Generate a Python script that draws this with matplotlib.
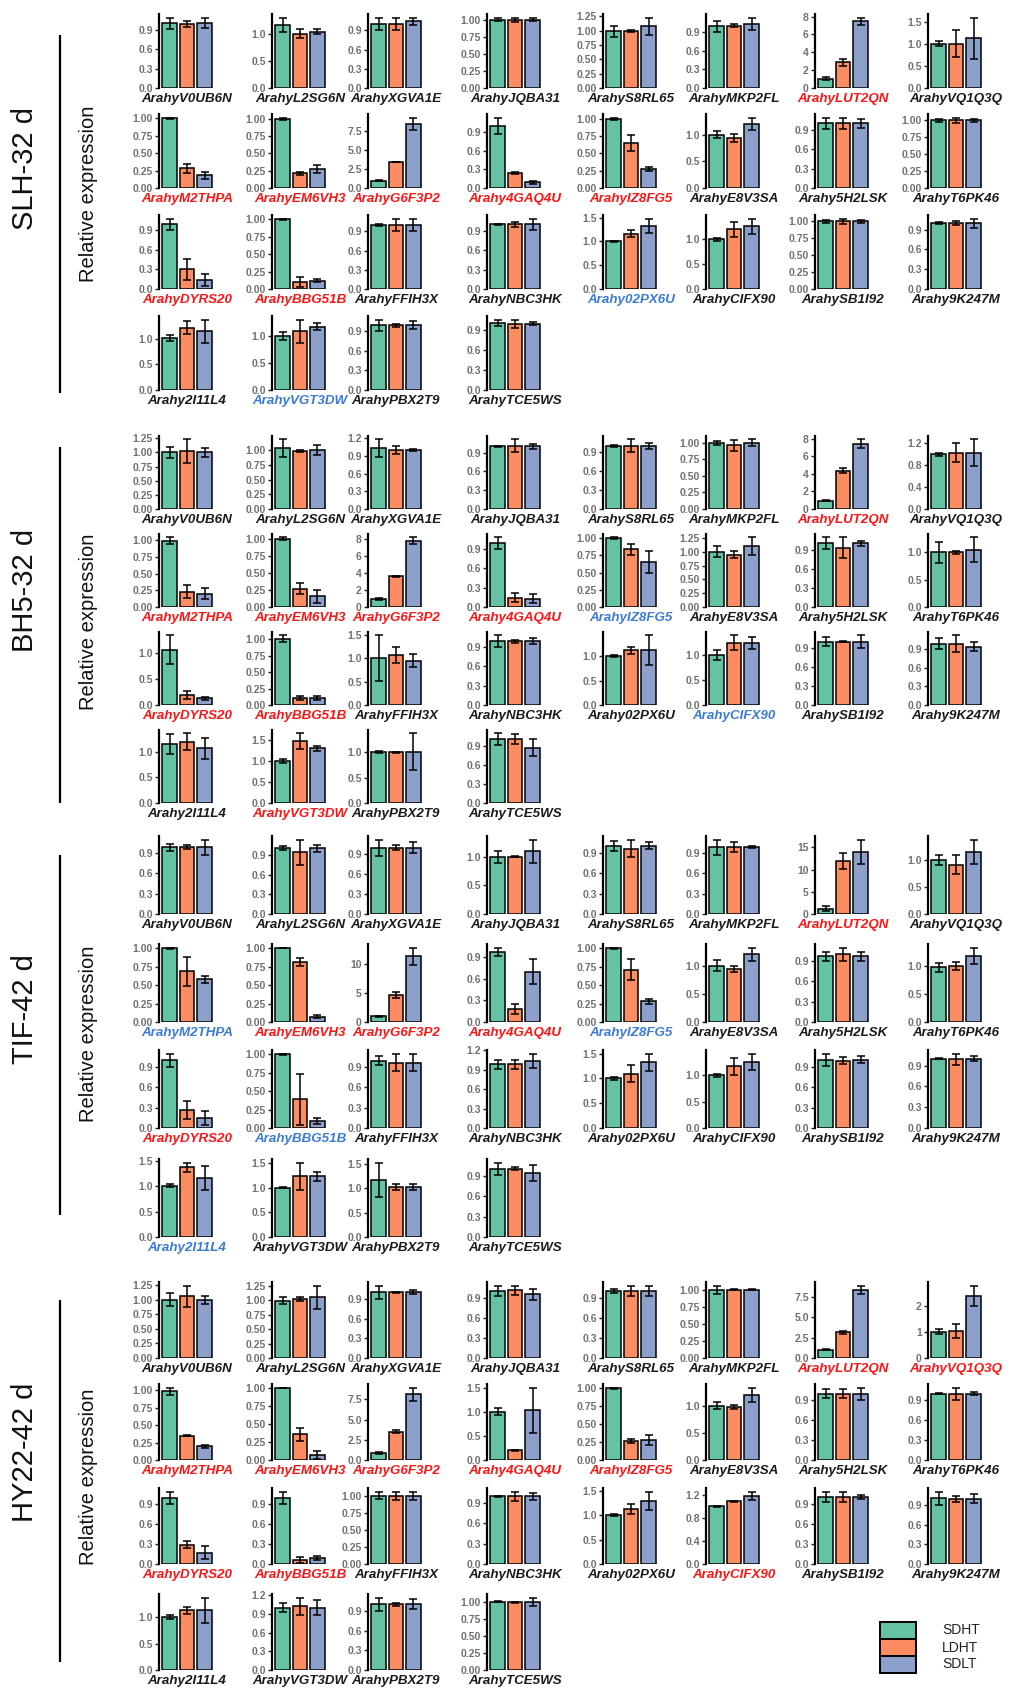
import numpy as np
import matplotlib
matplotlib.use("Agg")
import matplotlib.pyplot as plt
from matplotlib.patches import Rectangle

plt.rcParams['font.family'] = ['Liberation Sans', 'DejaVu Sans']

W, H = 1017, 1688

# ---------------- data ----------------
conditions = ['SDHT', 'LDHT', 'SDLT']
bar_colors = ['#66C2A5', '#FC8D62', '#8DA0CB']

genes = ['ArahyV0UB6N', 'ArahyL2SG6N', 'ArahyXGVA1E', 'ArahyJQBA31', 'ArahyS8RL65', 'ArahyMKP2FL', 'ArahyLUT2QN', 'ArahyVQ1Q3Q',
         'ArahyM2THPA', 'ArahyEM6VH3', 'ArahyG6F3P2', 'Arahy4GAQ4U', 'ArahyIZ8FG5', 'ArahyE8V3SA', 'Arahy5H2LSK', 'ArahyT6PK46',
         'ArahyDYRS20', 'ArahyBBG51B', 'ArahyFFIH3X', 'ArahyNBC3HK', 'Arahy02PX6U', 'ArahyCIFX90', 'ArahySB1I92', 'Arahy9K247M',
         'Arahy2I11L4', 'ArahyVGT3DW', 'ArahyPBX2T9', 'ArahyTCE5WS']

groups = ['SLH-32 d', 'BH5-32 d', 'TIF-42 d', 'HY22-42 d']

slh_mean = [[1.00, 0.99, 1.01], [1.17, 1.00, 1.04], [1.00, 1.00, 1.04], [1.00, 1.00, 1.00],
            [0.99, 0.99, 1.08], [0.99, 1.00, 1.03], [1.05, 2.88, 7.48], [1.01, 1.01, 1.13],
            [1.00, 0.28, 0.18], [1.00, 0.21, 0.28], [0.98, 3.45, 8.50], [1.00, 0.235, 0.09],
            [1.00, 0.65, 0.275], [1.00, 0.94, 1.20], [1.00, 1.00, 1.00], [1.00, 1.00, 1.00],
            [0.99, 0.30, 0.14], [1.00, 0.095, 0.12], [1.00, 1.00, 1.00], [1.00, 1.00, 1.00],
            [1.00, 1.16, 1.33], [1.00, 1.20, 1.26], [1.00, 1.00, 1.00], [1.00, 1.00, 1.00],
            [1.01, 1.21, 1.14], [1.00, 1.09, 1.18], [0.99, 0.99, 0.99], [1.01, 1.00, 1.00]]
slh_sd = [[0.09, 0.04, 0.08], [0.13, 0.08, 0.05], [0.09, 0.09, 0.06], [0.02, 0.03, 0.025],
          [0.10, 0.02, 0.15], [0.09, 0.02, 0.10], [0.20, 0.37, 0.42], [0.05, 0.30, 0.47],
          [0.01, 0.07, 0.05], [0.02, 0.02, 0.06], [0.05, 0.06, 0.85], [0.13, 0.015, 0.02],
          [0.02, 0.11, 0.03], [0.07, 0.07, 0.12], [0.09, 0.09, 0.07], [0.02, 0.04, 0.02],
          [0.09, 0.16, 0.09], [0.01, 0.07, 0.02], [0.02, 0.09, 0.10], [0.01, 0.04, 0.09],
          [0.01, 0.07, 0.15], [0.03, 0.16, 0.16], [0.02, 0.04, 0.02], [0.02, 0.03, 0.07],
          [0.06, 0.13, 0.23], [0.07, 0.22, 0.07], [0.09, 0.02, 0.06], [0.05, 0.06, 0.02]]
slh_step = [0.3, 0.5, 0.3, 0.25, 0.25, 0.3, 2, 0.5,
            0.25, 0.25, 2.5, 0.3, 0.25, 0.5, 0.3, 0.25,
            0.3, 0.25, 0.3, 0.3, 0.5, 0.5, 0.25, 0.3,
            0.5, 0.5, 0.3, 0.3]
slh_mark = "kkkkkkrk" + "rrrrrkkk" + "rrkkbkkk" + "kbkk"

bh5_mean = [[1.00, 1.02, 1.00], [1.03, 0.98, 1.00], [1.03, 1.00, 1.00], [1.00, 1.01, 1.00],
            [0.99, 0.99, 0.99], [1.00, 0.96, 1.00], [0.95, 4.37, 7.43], [1.00, 1.03, 1.03],
            [0.99, 0.23, 0.20], [1.00, 0.265, 0.155], [0.92, 3.60, 7.80], [0.99, 0.14, 0.13],
            [1.00, 0.84, 0.65], [1.00, 0.95, 1.10], [1.00, 0.93, 1.00], [1.00, 1.00, 1.05],
            [1.06, 0.19, 0.13], [1.01, 0.11, 0.11], [1.00, 1.07, 0.95], [0.99, 0.99, 0.99],
            [1.00, 1.12, 1.12], [1.00, 1.25, 1.25], [1.00, 1.00, 1.00], [0.99, 0.99, 0.94],
            [1.15, 1.20, 1.07], [1.00, 1.47, 1.30], [1.00, 1.00, 1.01], [1.00, 1.00, 0.87]]
bh5_sd = [[0.09, 0.21, 0.08], [0.15, 0.02, 0.08], [0.15, 0.07, 0.02], [0.01, 0.10, 0.04],
          [0.02, 0.10, 0.05], [0.03, 0.08, 0.05], [0.08, 0.30, 0.50], [0.03, 0.17, 0.24],
          [0.05, 0.10, 0.08], [0.02, 0.08, 0.10], [0.10, 0.10, 0.40], [0.09, 0.07, 0.07],
          [0.01, 0.08, 0.16], [0.10, 0.07, 0.16], [0.09, 0.16, 0.04], [0.19, 0.03, 0.22],
          [0.27, 0.07, 0.03], [0.05, 0.03, 0.03], [0.49, 0.17, 0.14], [0.09, 0.02, 0.05],
          [0.02, 0.07, 0.30], [0.10, 0.15, 0.12], [0.07, 0.01, 0.10], [0.09, 0.13, 0.07],
          [0.20, 0.16, 0.21], [0.04, 0.18, 0.06], [0.02, 0.01, 0.36], [0.09, 0.08, 0.13]]
bh5_step = [0.25, 0.25, 0.3, 0.3, 0.3, 0.25, 2, 0.4,
            0.25, 0.25, 2, 0.3, 0.25, 0.25, 0.3, 0.5,
            0.5, 0.25, 0.5, 0.3, 0.5, 0.5, 0.3, 0.3,
            0.5, 0.5, 0.5, 0.3]
bh5_mark = "kkkkkkrk" + "rrrrbkkk" + "rrkkkbkk" + "krkk"

tif_mean = [[0.99, 0.99, 0.99], [1.00, 0.94, 1.00], [0.99, 0.99, 0.99], [1.00, 1.00, 1.10],
            [1.00, 0.96, 1.00], [0.99, 0.99, 0.99], [1.20, 12.0, 14.0], [1.00, 0.91, 1.15],
            [1.00, 0.69, 0.58], [1.00, 0.81, 0.07], [1.00, 4.70, 11.4], [0.97, 0.18, 0.70],
            [1.00, 0.71, 0.28], [1.00, 0.94, 1.20], [0.97, 1.00, 0.97], [0.98, 1.00, 1.18],
            [1.00, 0.27, 0.145], [1.00, 0.39, 0.10], [0.99, 0.96, 0.96], [0.99, 0.99, 1.04],
            [1.00, 1.10, 1.33], [1.00, 1.17, 1.26], [1.00, 0.99, 1.00], [1.00, 0.99, 1.00],
            [1.01, 1.37, 1.16], [1.00, 1.23, 1.23], [1.17, 1.02, 1.02], [1.00, 1.00, 0.94]]
tif_sd = [[0.05, 0.03, 0.11], [0.03, 0.19, 0.05], [0.12, 0.04, 0.08], [0.10, 0.01, 0.20],
          [0.07, 0.13, 0.05], [0.11, 0.07, 0.02], [0.60, 1.80, 2.70], [0.09, 0.18, 0.22],
          [0.01, 0.20, 0.05], [0.005, 0.05, 0.02], [0.10, 0.50, 1.50], [0.06, 0.07, 0.17],
          [0.01, 0.14, 0.03], [0.10, 0.05, 0.12], [0.07, 0.10, 0.07], [0.08, 0.07, 0.15],
          [0.10, 0.13, 0.10], [0.01, 0.35, 0.04], [0.07, 0.12, 0.13], [0.07, 0.07, 0.11],
          [0.03, 0.17, 0.17], [0.03, 0.16, 0.15], [0.09, 0.05, 0.05], [0.01, 0.08, 0.03],
          [0.03, 0.09, 0.23], [0.01, 0.28, 0.10], [0.35, 0.06, 0.06], [0.09, 0.02, 0.12]]
tif_step = [0.3, 0.3, 0.3, 0.5, 0.3, 0.3, 5, 0.5,
            0.25, 0.25, 5, 0.3, 0.25, 0.5, 0.3, 0.5,
            0.3, 0.25, 0.3, 0.3, 0.5, 0.5, 0.3, 0.3,
            0.5, 0.5, 0.5, 0.3]
tif_mark = "kkkkkkrk" + "brrrbkkk" + "rbkkkkkk" + "bkkk"

hy22_mean = [[1.00, 1.06, 1.00], [0.99, 1.02, 1.05], [1.00, 1.00, 1.00], [1.00, 1.01, 0.95],
             [1.00, 1.00, 1.00], [1.00, 1.00, 1.00], [1.00, 3.15, 8.40], [1.00, 1.03, 2.38],
             [0.99, 0.35, 0.195], [1.00, 0.36, 0.07], [0.90, 3.50, 8.15], [1.00, 0.20, 1.03],
             [1.00, 0.265, 0.275], [1.00, 0.97, 1.20], [1.00, 1.00, 1.00], [1.00, 1.00, 1.00],
             [1.00, 0.29, 0.17], [1.00, 0.06, 0.095], [1.00, 1.00, 1.00], [1.00, 1.00, 1.00],
             [1.00, 1.13, 1.30], [1.00, 1.08, 1.18], [1.00, 1.00, 1.00], [1.00, 0.99, 0.99],
             [1.00, 1.13, 1.13], [1.00, 1.02, 1.00], [1.00, 1.00, 1.00], [1.00, 0.99, 1.00]]
hy22_sd = [[0.11, 0.18, 0.07], [0.06, 0.04, 0.20], [0.10, 0.01, 0.03], [0.08, 0.07, 0.08],
           [0.03, 0.08, 0.08], [0.06, 0.005, 0.01], [0.05, 0.15, 0.50], [0.10, 0.25, 0.38],
           [0.05, 0.01, 0.02], [0.005, 0.09, 0.05], [0.10, 0.15, 0.80], [0.07, 0.01, 0.47],
           [0.01, 0.03, 0.07], [0.06, 0.04, 0.13], [0.07, 0.07, 0.09], [0.01, 0.09, 0.02],
           [0.09, 0.05, 0.10], [0.09, 0.05, 0.03], [0.05, 0.06, 0.06], [0.01, 0.07, 0.05],
           [0.02, 0.11, 0.19], [0.01, 0.01, 0.07], [0.08, 0.08, 0.03], [0.10, 0.05, 0.07],
           [0.04, 0.07, 0.24], [0.07, 0.14, 0.12], [0.10, 0.02, 0.08], [0.01, 0.01, 0.06]]
hy22_step = [0.25, 0.25, 0.3, 0.3, 0.3, 0.25, 2.5, 1,
             0.25, 0.25, 2.5, 0.5, 0.25, 0.5, 0.3, 0.3,
             0.3, 0.3, 0.25, 0.3, 0.5, 0.4, 0.3, 0.3,
             0.5, 0.3, 0.3, 0.25]
hy22_mark = "kkkkkkrr" + "rrrrrkkk" + "rrkkkrkk" + "kkkk"

all_mean = [slh_mean, bh5_mean, tif_mean, hy22_mean]
all_sd = [slh_sd, bh5_sd, tif_sd, hy22_sd]
all_step = [slh_step, bh5_step, tif_step, hy22_step]
all_mark = [slh_mark, bh5_mark, tif_mark, hy22_mark]

# ---------------- layout (pixels) ----------------
col_left = [159, 272, 368, 487, 603, 706, 815, 928]
col_w = 56
row_bottom = [[88, 188, 289, 390], [509, 607, 705, 803],
              [914, 1022, 1128, 1237], [1358, 1460, 1564, 1670]]
panel_h = [74, 73, 78, 76]
line_span = [(35, 393), (447, 803), (855, 1215), (1300, 1662)]
group_label_y = [168, 590, 1009, 1452]
relexp_y = [194, 622, 1034, 1477]

label_colors = {'k': '#1a1a1a', 'r': '#FF1414', 'b': '#3A7BD5'}


def decimals(step):
    if step < 0.3:
        return 2
    if step < 1 or step == 2.5:
        return 1
    return 0


fig = plt.figure(figsize=(W / 100, H / 100), dpi=100)

for g in range(4):
    for k, gene in enumerate(genes):
        r, c = divmod(k, 8)
        m = np.array(all_mean[g][k])
        s = np.array(all_sd[g][k])
        bot = row_bottom[g][r]
        h = panel_h[g]
        left = col_left[c]
        ax = fig.add_axes([left / W, 1 - bot / H, col_w / W, h / H])
        x = np.arange(1, 4)
        ax.bar(x, m, width=0.85, color=bar_colors, edgecolor='black', linewidth=1.1, zorder=2)
        ax.errorbar(x, m, yerr=s, fmt='none', ecolor='black', elinewidth=1.1,
                    capsize=3.2, capthick=1.1, zorder=3)
        top = (m + s).max() * 1.05
        ax.set_ylim(0, top)
        ax.set_xlim(0.4, 3.6)
        step = all_step[g][k]
        ticks = np.arange(0, top + 1e-9, step)
        d = decimals(step)
        ax.set_yticks(ticks)
        ax.set_yticklabels([f'{t:.{d}f}' for t in ticks])
        ax.set_xticks([])
        for sp in ['top', 'right', 'bottom']:
            ax.spines[sp].set_visible(False)
        ax.spines['left'].set_linewidth(1.6)
        ax.tick_params(axis='y', length=3, width=1, color='#222222', pad=1.5,
                       labelsize=7.5, labelcolor='#707070')
        for lab in ax.get_yticklabels():
            lab.set_fontweight('bold')
        ax.patch.set_visible(False)
        fig.text((left + col_w / 2) / W, 1 - (bot + 11) / H, gene,
                 ha='center', va='center', fontsize=9.6, fontweight='bold',
                 fontstyle='italic', color=label_colors[all_mark[g][k]])

# overlay for group annotations and legend
ov = fig.add_axes([0, 0, 1, 1])
ov.set_xlim(0, W)
ov.set_ylim(H, 0)
ov.axis('off')
ov.patch.set_visible(False)

for g in range(4):
    y0, y1 = line_span[g]
    ov.plot([60, 60], [y0, y1], color='black', lw=1.6, solid_capstyle='butt')
    ov.text(25, group_label_y[g], groups[g], rotation=90, ha='center', va='center',
            fontsize=21, color='#111111')
    ov.text(88, relexp_y[g], 'Relative expression', rotation=90, ha='center', va='center',
            fontsize=14.5, color='#111111')

box_top = 1622
box_h = 17
for i, cond in enumerate(conditions):
    ov.add_patch(Rectangle((880, box_top + i * box_h), 36, box_h, facecolor=bar_colors[i],
                           edgecolor='black', lw=1.4))
    ov.text(942, box_top + i * box_h + box_h / 2, cond, ha='left', va='center',
            fontsize=10, color='#222222')

fig.savefig('out.png', dpi=100)
